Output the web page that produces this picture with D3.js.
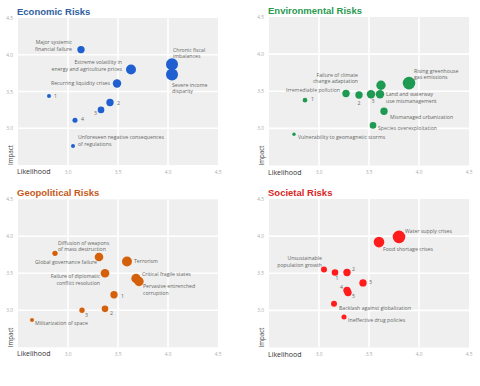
<!DOCTYPE html>
<html>
<head>
<meta charset="utf-8">
<script src="https://cdn.jsdelivr.net/npm/d3@7/dist/d3.min.js"></script>
<style>
  html, body { margin: 0; padding: 0; background: #fff; }
  svg { display: block; }
</style>
</head>
<body>
<svg id="chart" width="480" height="386"></svg>
<script>
// ---------- DATA ----------
const xTicks = [3.0, 3.5, 4.0, 4.5];
const yTicks = [3.0, 3.5, 4.0, 4.5];
const xTickLabels = ["3.0", "3.5", "4.0", "4.5"];
const yTickLabels = ["3.0", "3.5", "4.0", "4.5"];
const panelTitles = ["Economic Risks", "Environmental Risks", "Geopolitical Risks", "Societal Risks"];

// [label lines, likelihood, impact, weight]
const economic = [
  [["Major systemic", "financial failure"], 3.13, 4.07, 3.2],
  [["Extreme volatility in", "energy and agriculture prices"], 3.63, 3.80, 5.9],
  [["Chronic fiscal", "imbalances"], 4.04, 3.87, 8.5],
  [["Severe income", "disparity"], 4.04, 3.73, 8.5],
  [["Recurring liquidity crises"], 3.49, 3.61, 4.2],
  [["1"], 2.81, 3.44, 0.95],
  [["2"], 3.42, 3.35, 3.2],
  [["3"], 3.33, 3.25, 2.6],
  [["4"], 3.07, 3.11, 1.5],
  [["Unforeseen negative consequences", "of regulations"], 3.05, 2.76, 0.95]
];
const environmental = [
  [["Rising greenhouse", "gas emissions"], 3.90, 3.61, 9.4],
  [["Failure of climate", "change adaptation"], 3.62, 3.58, 5.2],
  [["Land and waterway", "use mismanagement"], 3.61, 3.46, 4.2],
  [["3"], 3.52, 3.46, 4.2],
  [["2"], 3.40, 3.45, 3.2],
  [["Irremediable pollution"], 3.27, 3.47, 3.2],
  [["1"], 2.86, 3.38, 1.25],
  [["Mismanaged urbanization"], 3.65, 3.23, 3.2],
  [["Species overexploitation"], 3.54, 3.04, 2.6],
  [["Vulnerability to geomagnetic storms"], 2.75, 2.92, 0.7]
];
const geopolitical = [
  [["Diffusion of weapons", "of mass destruction"], 2.87, 3.77, 1.7],
  [["Global governance failure"], 3.31, 3.72, 4.4],
  [["Terrorism"], 3.59, 3.66, 5.9],
  [["Failure of diplomatic", "conflict resolution"], 3.37, 3.50, 4.4],
  [["Critical fragile states"], 3.68, 3.43, 5.2],
  [["Pervasive entrenched", "corruption"], 3.71, 3.39, 5.2],
  [["1"], 3.46, 3.21, 3.2],
  [["2"], 3.37, 3.02, 2.6],
  [["3"], 3.14, 3.00, 1.7],
  [["Militarization of space"], 2.64, 2.87, 0.95]
];
const societal = [
  [["Water supply crises"], 3.80, 3.99, 9.4],
  [["Food shortage crises"], 3.60, 3.92, 6.7],
  [["Unsustainable", "population growth"], 3.05, 3.55, 2.1],
  [["1"], 3.16, 3.51, 2.6],
  [["2"], 3.28, 3.51, 3.2],
  [["3"], 3.44, 3.37, 3.2],
  [["4"], 3.28, 3.27, 3.2],
  [["5"], 3.29, 3.24, 3.2],
  [["Backlash against globalization"], 3.15, 3.09, 2.1],
  [["Ineffective drug policies"], 3.25, 2.91, 1.5]
];

// ---------- LAYOUT / STYLE ----------
// label placement relative to its bubble: [anchor, dx, dy]
const economicLabelLayout = [
  ["end", -9, -7.5], ["end", -9, -7.5], ["start", 1, -14.5], ["start", 0, 10], ["end", -7, 0],
  ["start", 5, 0], ["start", 7, 0], ["end", -4, 3], ["start", 6, -1], ["start", 5, -8.5]
];
const environmentalLabelLayout = [
  ["start", 5, -12.5], ["end", -23, -10.5], ["start", 6, 0], ["middle", 2, 7], ["middle", 0, 8],
  ["end", -6, -3], ["start", 6, -1], ["start", 6, 6], ["start", 5, 3], ["start", 4, 2.5]
];
const geopoliticalLabelLayout = [
  ["start", 3, -10.5], ["end", -2, 5], ["start", 7, 0], ["end", -5, 3], ["start", 6, -4],
  ["start", 4, 5], ["start", 7, 1], ["start", 5, 4], ["start", 3, 5], ["start", 3, 3]
];
const societalLabelLayout = [
  ["start", 6, -6], ["start", 4, 7], ["end", -2, -11.5], ["middle", 2, 5], ["start", 5, -4],
  ["start", 6, -1], ["end", -4, -3], ["start", 4, 3], ["start", 5, 4], ["start", 4, 3]
];

const panels = [
  { title: panelTitles[0], data: economic, layout: economicLabelLayout, x: [18, 218], y: [165, 18], titleColor: "#2f5e9f", dotColor: "#1f5fcf" },
  { title: panelTitles[1], data: environmental, layout: environmentalLabelLayout, x: [269, 469], y: [165.5, 17], titleColor: "#2a9a4f", dotColor: "#1e9a52" },
  { title: panelTitles[2], data: geopolitical, layout: geopoliticalLabelLayout, x: [18, 218], y: [347.3, 199.3], titleColor: "#c65a1a", dotColor: "#d4600c" },
  { title: panelTitles[3], data: societal, layout: societalLabelLayout, x: [269, 469], y: [347.5, 199], titleColor: "#d8261f", dotColor: "#ff1c1c" }
];

const svg = d3.select("#chart");
const font = "'Open Sans', 'Liberation Sans', sans-serif";
const rScale = d3.scaleSqrt().domain([0, 10]).range([0, 6.5]);
const lineGap = 6.6;

panels.forEach(p => {
  const x = d3.scaleLinear().domain([2.5, 4.5]).range(p.x);
  const y = d3.scaleLinear().domain([2.5, 4.5]).range(p.y);
  const g = svg.append("g");

  // background
  g.append("rect")
    .attr("x", p.x[0]).attr("y", p.y[1])
    .attr("width", p.x[1] - p.x[0]).attr("height", p.y[0] - p.y[1])
    .attr("fill", "#efefef");

  // grid
  g.selectAll("line.gx").data(xTicks.slice(0, 3)).join("line")
    .attr("x1", d => x(d)).attr("x2", d => x(d))
    .attr("y1", p.y[1]).attr("y2", p.y[0])
    .attr("stroke", "#fff").attr("stroke-width", 1.6);
  g.selectAll("line.gy").data(yTicks.slice(0, 3)).join("line")
    .attr("y1", d => y(d)).attr("y2", d => y(d))
    .attr("x1", p.x[0]).attr("x2", p.x[1])
    .attr("stroke", "#fff").attr("stroke-width", 1.6);

  // y tick labels
  g.selectAll("text.yt").data(yTicks).join("text")
    .attr("x", p.x[0] - 5).attr("y", d => y(d))
    .attr("text-anchor", "end").attr("dominant-baseline", "central")
    .attr("font-family", font).attr("font-size", 4.8).attr("fill", "#aaa")
    .text((d, i) => yTickLabels[i]);

  // x tick labels
  g.selectAll("text.xt").data(xTicks).join("text")
    .attr("x", d => x(d)).attr("y", p.y[0] + 6.5)
    .attr("text-anchor", "middle").attr("dominant-baseline", "central")
    .attr("font-family", font).attr("font-size", 4.8).attr("fill", "#aaa")
    .text((d, i) => xTickLabels[i]);

  // axis titles
  g.append("text")
    .attr("x", p.x[0] - 1).attr("y", p.y[0] + 6.5)
    .attr("dominant-baseline", "central")
    .attr("font-family", font).attr("font-size", 7).attr("fill", "#333")
    .text("Likelihood");
  g.append("text")
    .attr("transform", `translate(${p.x[0] - 5.5},${p.y[0]}) rotate(-90)`)
    .attr("font-family", font).attr("font-size", 6.2).attr("fill", "#444")
    .text("Impact");

  // panel title
  g.append("text")
    .attr("x", p.x[0] - 1).attr("y", p.y[1] - 3)
    .attr("font-family", "'Liberation Sans', Arial, sans-serif")
    .attr("font-weight", "bold").attr("font-size", 9.5)
    .attr("fill", p.titleColor)
    .text(p.title);

  // bubbles
  g.selectAll("circle").data(p.data).join("circle")
    .attr("cx", d => x(d[1])).attr("cy", d => y(d[2]))
    .attr("r", d => rScale(d[3]))
    .attr("fill", p.dotColor);

  // labels
  p.data.forEach((d, i) => {
    const [anchor, dx, dy] = p.layout[i];
    const t = g.append("text")
      .attr("text-anchor", anchor)
      .attr("font-family", font).attr("font-size", 5.2).attr("fill", "#666");
    d[0].forEach((line, k) => {
      t.append("tspan")
        .attr("x", x(d[1]) + dx)
        .attr("y", y(d[2]) + dy + k * lineGap)
        .attr("dominant-baseline", "central")
        .text(line);
    });
  });
});
</script>
</body>
</html>
